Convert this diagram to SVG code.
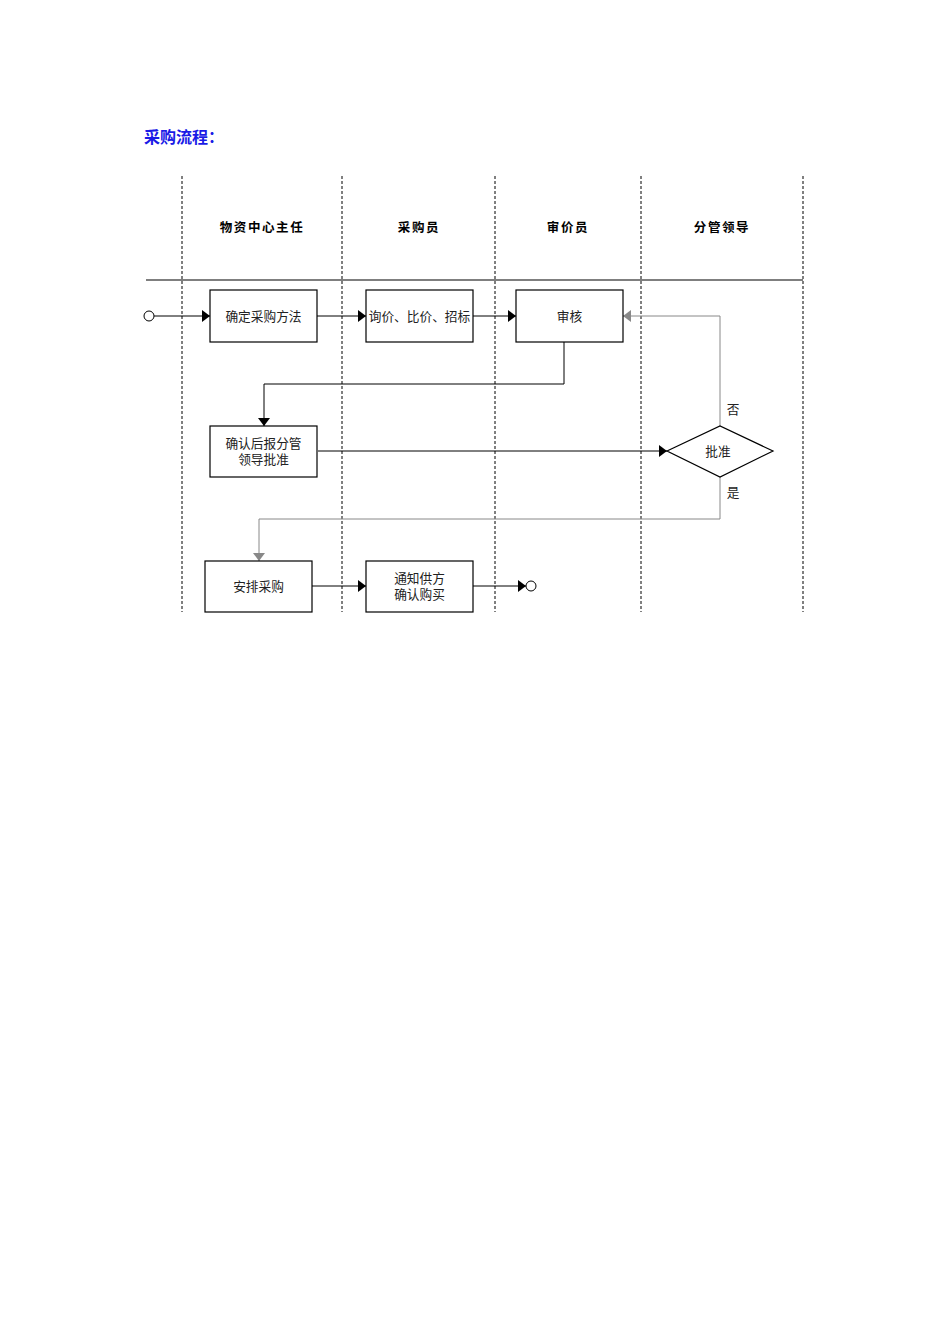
<svg xmlns="http://www.w3.org/2000/svg" width="950" height="1344" viewBox="0 0 950 1344">
<style>
.t{font-family:"Liberation Sans","Noto Sans CJK SC",sans-serif;font-size:12.7px;fill:#222;text-anchor:middle}
.h{font-family:"Liberation Sans","Noto Sans CJK SC",sans-serif;font-size:12.5px;font-weight:bold;fill:#000;text-anchor:middle;letter-spacing:1.6px}
.box{fill:#fff;stroke:#000;stroke-width:1.2}
.lane{stroke:#000;stroke-width:1;stroke-dasharray:3,2;fill:none}
.c{fill:none;stroke:#000;stroke-width:1}
.g{fill:none;stroke:#888;stroke-width:1}
</style>
<defs>
<marker id="ab" viewBox="0 0 8 12" refX="8" refY="6" markerWidth="8" markerHeight="12" markerUnits="userSpaceOnUse" orient="auto"><path d="M0,0 L8,6 L0,12 Z" fill="#000"/></marker>
<marker id="ag" viewBox="0 0 8 12" refX="8" refY="6" markerWidth="8" markerHeight="12" markerUnits="userSpaceOnUse" orient="auto"><path d="M0,0 L8,6 L0,12 Z" fill="#888"/></marker>
</defs>
<rect width="950" height="1344" fill="#fff"/>
<text x="144" y="143" font-family="Liberation Sans,Noto Sans CJK SC,sans-serif" font-size="16" font-weight="bold" fill="#1a1ae6">采购流程：</text>
<g id="lanes">
<line class="lane" x1="182" y1="176" x2="182" y2="612"/>
<line class="lane" x1="342" y1="176" x2="342" y2="612"/>
<line class="lane" x1="495" y1="176" x2="495" y2="612"/>
<line class="lane" x1="641" y1="176" x2="641" y2="612"/>
<line class="lane" x1="803" y1="176" x2="803" y2="612"/>
<line x1="146" y1="280" x2="803" y2="280" stroke="#555" stroke-width="1.5"/>
<text class="h" x="262" y="232">物资中心主任</text>
<text class="h" x="419" y="232">采购员</text>
<text class="h" x="568" y="232">审价员</text>
<text class="h" x="722" y="232">分管领导</text>
</g>
<g id="connectors">
<path class="c" d="M154,316 H210" marker-end="url(#ab)"/>
<path class="c" d="M317,316 H366" marker-end="url(#ab)"/>
<path class="c" d="M473,316 H516" marker-end="url(#ab)"/>
<path class="c" d="M564,342 V384 H264 V426" marker-end="url(#ab)"/>
<path class="c" d="M318,451 H667" marker-end="url(#ab)"/>
<path class="g" d="M720,426 V316 H623" marker-end="url(#ag)"/>
<path class="g" d="M720,477 V519 H259 V561" marker-end="url(#ag)"/>
<path class="c" d="M312,586 H366" marker-end="url(#ab)"/>
<path class="c" d="M473,586 H526" marker-end="url(#ab)"/>
<text class="t" x="733" y="414">否</text>
<text class="t" x="733" y="497">是</text>
</g>
<g id="start"><circle cx="149" cy="316" r="5" fill="#fff" stroke="#000" stroke-width="1"/></g>
<g id="end"><circle cx="531" cy="586" r="5" fill="#fff" stroke="#000" stroke-width="1"/></g>
<g id="n1"><rect class="box" x="210" y="290" width="107" height="52"/><text class="t" x="263.5" y="321">确定采购方法</text></g>
<g id="n2"><rect class="box" x="366" y="290" width="107" height="52"/><text class="t" x="419.5" y="321">询价、比价、招标</text></g>
<g id="n3"><rect class="box" x="516" y="290" width="107" height="52"/><text class="t" x="569.5" y="321">审核</text></g>
<g id="n4"><rect class="box" x="210" y="426" width="107" height="51"/><text class="t" x="263.5" y="448">确认后报分管</text><text class="t" x="263.5" y="464">领导批准</text></g>
<g id="d1"><path class="box" d="M667,451 L720,426 L773,451 L720,477 Z"/><text class="t" x="718" y="456">批准</text></g>
<g id="n5"><rect class="box" x="205" y="561" width="107" height="51"/><text class="t" x="258.5" y="591">安排采购</text></g>
<g id="n6"><rect class="box" x="366" y="561" width="107" height="51"/><text class="t" x="419.5" y="583">通知供方</text><text class="t" x="419.5" y="599">确认购买</text></g>
</svg>
